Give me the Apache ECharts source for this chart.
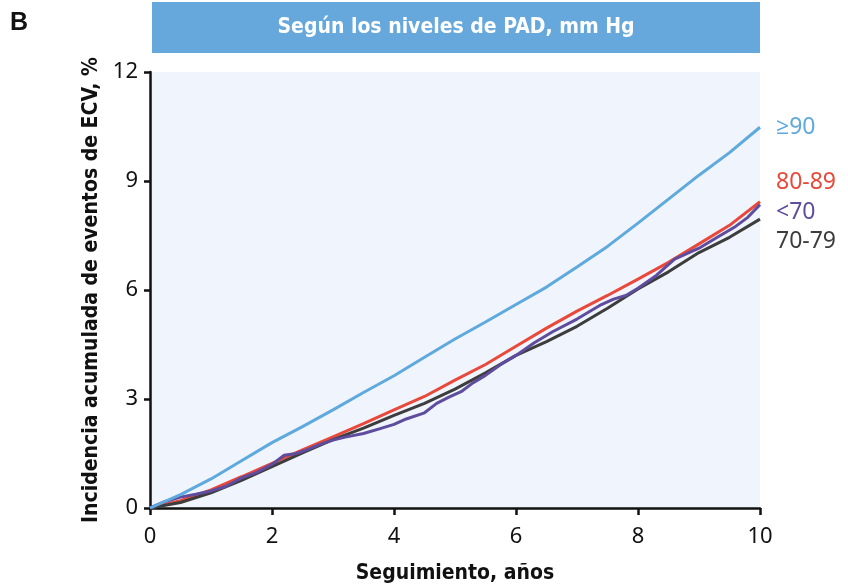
<!DOCTYPE html>
<html>
<head>
<meta charset="utf-8">
<script src="https://cdn.jsdelivr.net/npm/echarts@6/dist/echarts.min.js"></script>
<style>html,body{margin:0;padding:0;background:#fff}#c{width:848px;height:585px}</style>
</head>
<body>
<div id="c"></div>
<script>
const title = 'Según los niveles de PAD, mm Hg';
const panelLetter = 'B';
const xName = 'Seguimiento, años';
const yName = 'Incidencia acumulada de eventos de ECV, %';
const seriesNames = ['≥90', '80-89', '<70', '70-79'];

const tBlue = [0,0.5,1,1.5,2,2.5,3,3.5,4,4.5,5,5.5,6,6.5,7,7.5,8,8.5,9,9.5,10];
const vBlue = [0,0.37,0.80,1.30,1.80,2.24,2.7,3.18,3.64,4.15,4.65,5.12,5.6,6.08,6.63,7.2,7.84,8.5,9.16,9.78,10.48];

const tRed = [0,0.5,1,1.5,2,2.5,3,3.5,4,4.5,5,5.5,6,6.5,7,7.5,8,8.5,9,9.5,10];
const vRed = [0,0.2,0.5,0.86,1.23,1.6,1.96,2.32,2.7,3.07,3.52,3.95,4.45,4.95,5.42,5.85,6.3,6.76,7.27,7.78,8.43];

const tBlack = [0,0.5,1,1.5,2,2.5,3,3.5,4,4.5,5,5.5,6,6.5,7,7.5,8,8.5,9,9.5,10];
const vBlack = [0,0.15,0.42,0.76,1.14,1.52,1.88,2.2,2.55,2.88,3.27,3.72,4.2,4.58,5.0,5.5,6.03,6.5,7.03,7.45,7.95];

const tPurple = [0,0.25,0.5,0.75,1,1.25,1.5,1.75,2,2.2,2.4,2.6,2.8,3,3.2,3.5,3.8,4,4.2,4.5,4.7,4.9,5.1,5.3,5.5,5.75,6,6.3,6.6,7,7.2,7.4,7.6,7.8,8,8.3,8.6,8.8,9,9.3,9.6,9.8,10];
const vPurple = [0,0.18,0.3,0.38,0.47,0.6,0.83,0.98,1.2,1.45,1.5,1.62,1.76,1.87,1.95,2.05,2.2,2.3,2.45,2.62,2.88,3.05,3.2,3.45,3.65,3.95,4.2,4.55,4.85,5.2,5.4,5.6,5.75,5.85,6.05,6.4,6.85,7.0,7.15,7.45,7.75,8.0,8.35];

const xTicks = [0,2,4,6,8,10];
const yTicks = [0,3,6,9,12];

const pair = (t, v) => t.map((x, i) => [x, v[i]]);

const condensed = '"Liberation Sans Narrow","DejaVu Sans Condensed","Roboto Condensed",sans-serif';
const tickFont = '"Noto Sans","Open Sans",sans-serif';

const chart = echarts.init(document.getElementById('c'), null, {renderer: 'canvas'});

function mk(name, t, v, color, dy) {
  return {
    name, type: 'line', data: pair(t, v), showSymbol: false, symbol: 'none',
    lineStyle: {color, width: 3}, itemStyle: {color},
    z: 3,
    endLabel: {show: true, formatter: name, color, fontFamily: tickFont, fontSize: 23, offset: [8, dy]},
    animation: false
  };
}

chart.setOption({
  animation: false,
  grid: {left: 150, right: 88, top: 72, bottom: 77, show: true, backgroundColor: '#F0F4FC', borderWidth: 0,
    containLabel: false, outerBoundsMode: 'none'},
  xAxis: {
    type: 'value', min: 0, max: 10, interval: 2,
    name: xName, nameLocation: 'middle', nameGap: 55,
    nameTextStyle: {fontFamily: condensed, fontWeight: 'bold', fontSize: 21, color: '#111'},
    axisLine: {show: true, lineStyle: {color: '#111', width: 2.5}},
    axisTick: {show: true, length: 7, lineStyle: {color: '#111', width: 2.5}},
    axisLabel: {fontFamily: tickFont, fontSize: 22, color: '#111', margin: 18,
      formatter: v => xTicks.includes(v) ? String(v) : ''},
    splitLine: {show: false}
  },
  yAxis: {
    type: 'value', min: 0, max: 12, interval: 3,
    name: yName, nameLocation: 'middle', nameGap: 46, nameRotate: 90,
    nameTextStyle: {fontFamily: condensed, fontWeight: 'bold', fontSize: 21, color: '#111'},
    axisLine: {show: true, lineStyle: {color: '#111', width: 2.5}},
    axisTick: {show: true, length: 6, lineStyle: {color: '#111', width: 2.5}},
    axisLabel: {fontFamily: tickFont, fontSize: 22, color: '#111', margin: 12,
      formatter: v => yTicks.includes(v) ? String(v) : ''},
    splitLine: {show: false}
  },
  series: [
    mk(seriesNames[1], tRed, vRed, '#E8493B', -19),
    mk(seriesNames[3], tBlack, vBlack, '#3D3D3D', 22),
    mk(seriesNames[2], tPurple, vPurple, '#5E4C9E', 8),
    mk(seriesNames[0], tBlue, vBlue, '#5EA9DD', 0)
  ],
  graphic: [
    {type: 'rect', left: 152, top: 2, shape: {width: 608, height: 51}, style: {fill: '#66A8DC'}},
    {type: 'text', x: 456, y: 28, style: {text: title, fill: '#fff', fontFamily: condensed, fontWeight: 'bold', fontSize: 21, textAlign: 'center', textVerticalAlign: 'middle'}},
    {type: 'text', x: 10, y: 11, style: {text: panelLetter, fill: '#111', fontFamily: '"Liberation Sans","DejaVu Sans",sans-serif', fontWeight: 'bold', fontSize: 25}}
  ]
});
</script>
</body>
</html>
